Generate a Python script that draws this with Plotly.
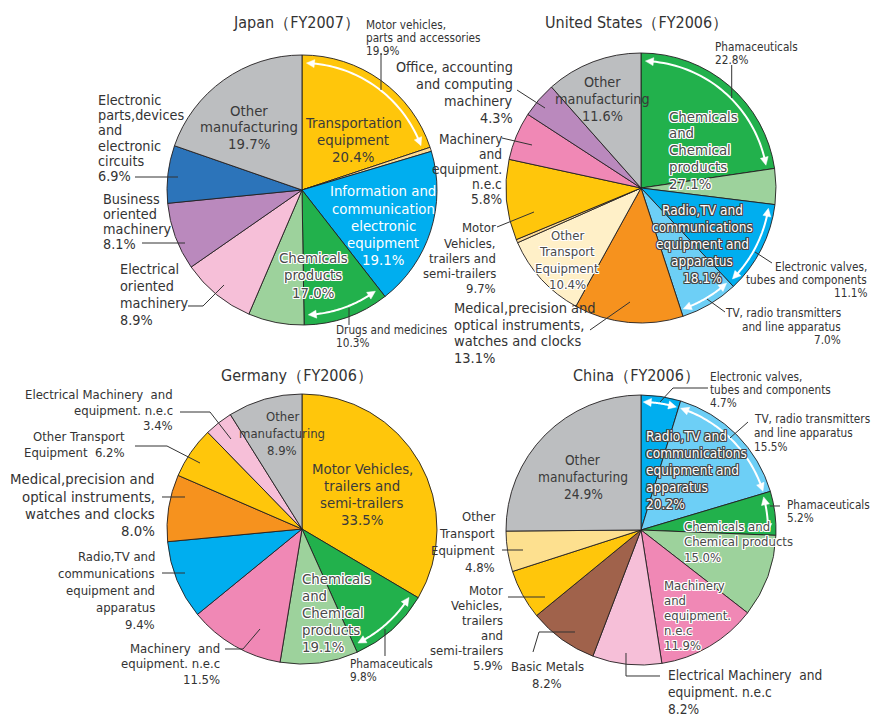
import math
import plotly.graph_objects as go

W, H = 884, 716

# ---------------- DATA ----------------
JAPAN_TITLE = "Japan（FY2007）"
JAPAN_LABELS = ["Motor vehicles, parts and accessories", "Other transportation equipment",
                "Information and communication electronic equipment", "Drugs and medicines",
                "Other chemicals products", "Electrical oriented machinery",
                "Business oriented machinery", "Electronic parts, devices and electronic circuits",
                "Other manufacturing"]
JAPAN_VALUES = [19.9, 0.5, 19.1, 10.3, 6.7, 8.9, 8.1, 6.9, 19.7]

US_TITLE = "United States（FY2006）"
US_LABELS = ["Phamaceuticals", "Other chemical products", "Electronic valves, tubes and components",
             "TV, radio transmitters and line apparatus", "Medical, precision and optical instruments",
             "Other Transport Equipment", "Other transport (minor)", "Motor Vehicles, trailers and semi-trailers",
             "Machinery and equipment n.e.c", "Office, accounting and computing machinery",
             "Other manufacturing"]
US_VALUES = [22.8, 4.3, 11.1, 7.0, 13.1, 10.4, 0.4, 9.7, 5.8, 4.3, 11.6]

GERMANY_TITLE = "Germany（FY2006）"
GERMANY_LABELS = ["Motor Vehicles, trailers and semi-trailers", "Phamaceuticals", "Other chemical products",
                  "Machinery and equipment n.e.c", "Radio, TV and communications equipment",
                  "Medical, precision and optical instruments", "Other Transport Equipment",
                  "Electrical Machinery and equipment n.e.c", "Other manufacturing"]
GERMANY_VALUES = [33.5, 9.8, 9.3, 11.5, 9.4, 8.0, 6.2, 3.4, 8.9]

CHINA_TITLE = "China（FY2006）"
CHINA_LABELS = ["Electronic valves, tubes and components", "TV, radio transmitters and line apparatus",
                "Phamaceuticals", "Other chemical products", "Machinery and equipment n.e.c",
                "Electrical Machinery and equipment n.e.c", "Basic Metals",
                "Motor Vehicles, trailers and semi-trailers", "Other Transport Equipment",
                "Other manufacturing"]
CHINA_VALUES = [4.7, 15.5, 5.2, 9.8, 11.9, 8.2, 8.2, 5.9, 4.8, 24.9]

# ---------------- STYLES ----------------
YELLOW = "#FFC60B"; PALEY = "#FDDB93"; CREAM = "#FFF0C8"; PALEY2 = "#FDE08F"
BLUE = "#00AEEF"; LBLUE = "#6DCFF6"; GREEN = "#22B14C"; LGREEN = "#9DD29C"
GRAY = "#BCBEC0"; DBLUE = "#2C74BA"; PURPLE = "#BA89BD"; LPINK = "#F6BFD8"
PINK = "#F088B5"; ORANGE = "#F6921E"; BROWN = "#A0624B"

JAPAN_COLORS = [YELLOW, PALEY, BLUE, GREEN, LGREEN, LPINK, PURPLE, DBLUE, GRAY]
US_COLORS = [GREEN, LGREEN, BLUE, LBLUE, ORANGE, CREAM, PALEY, YELLOW, PINK, PURPLE, GRAY]
GERMANY_COLORS = [YELLOW, GREEN, LGREEN, PINK, BLUE, ORANGE, YELLOW, LPINK, GRAY]
CHINA_COLORS = [BLUE, LBLUE, GREEN, LGREEN, PINK, LPINK, BROWN, YELLOW, PALEY2, GRAY]

FONT = "DejaVu Sans Condensed, Liberation Sans, sans-serif"
DARK = "#333333"
INK = "#3a3a3a"
R = 135
CENTERS = {"jp": (302, 190), "us": (641, 188), "de": (302, 529), "cn": (641, 530)}

# font sizes
T = 16      # titles
XL = 14.8   # big inside / outside
L = 14.3
M = 13.6
S = 13.0
XS = 11.7   # small notes

fig = go.Figure()


def add_pie(key, labels, values, colors):
    cx, cy = CENTERS[key]
    fig.add_trace(go.Pie(
        labels=labels, values=values, sort=False, direction="clockwise", rotation=0,
        marker=dict(colors=colors, line=dict(color="#231F20", width=0.9)),
        textinfo="none", hoverinfo="label+percent", showlegend=False,
        domain=dict(x=[(cx - R) / W, (cx + R) / W], y=[1 - (cy + R) / H, 1 - (cy - R) / H]),
    ))


add_pie("jp", JAPAN_LABELS, JAPAN_VALUES, JAPAN_COLORS)
add_pie("us", US_LABELS, US_VALUES, US_COLORS)
add_pie("de", GERMANY_LABELS, GERMANY_VALUES, GERMANY_COLORS)
add_pie("cn", CHINA_LABELS, CHINA_VALUES, CHINA_COLORS)

annotations = []
shapes = []


def px(x, y):
    return x / W, 1 - y / H


def txt(x, y0, lines, size, anchor="left", color=DARK, step=None, shadow=None):
    step = step or size * 1.05
    for i, line in enumerate(lines):
        xx, yy = px(x, y0 + i * step)
        f = dict(family=FONT, size=size, color=color)
        if shadow:
            f["shadow"] = shadow
        annotations.append(dict(x=xx, y=yy, xref="paper", yref="paper", text=line, showarrow=False,
                                xanchor=anchor, yanchor="middle", font=f, borderpad=0))


def leader(*pts):
    d = "M " + " L ".join("%.5f,%.5f" % px(x, y) for x, y in pts)
    shapes.append(dict(type="path", xref="paper", yref="paper", path=d,
                       line=dict(color=DARK, width=1), layer="above"))


def slice_angles(values, idx):
    tot = sum(values)
    a0 = sum(values[:idx]) / tot * 360
    a1 = a0 + values[idx] / tot * 360
    return a0, a1


def pt(cx, cy, r, a):
    t = math.radians(a)
    return cx + r * math.sin(t), cy - r * math.cos(t)


def arc_arrow(key, values, idx, inset=2.0, rr=127):
    cx, cy = CENTERS[key]
    a0, a1 = slice_angles(values, idx)
    a0 += inset
    a1 -= inset
    head = math.degrees(8.0 / rr)
    n = 40
    s0, s1 = a0 + head * 0.8, a1 - head * 0.8
    pts = [pt(cx, cy, rr, s0 + (s1 - s0) * k / n) for k in range(n + 1)]
    d = "M " + " L ".join("%.5f,%.5f" % px(x, y) for x, y in pts)
    shapes.append(dict(type="path", xref="paper", yref="paper", path=d,
                       line=dict(color="white", width=2), layer="above"))
    for tip, base in ((a0, a0 + head), (a1, a1 - head)):
        p1 = pt(cx, cy, rr, tip)
        p2 = pt(cx, cy, rr + 4, base)
        p3 = pt(cx, cy, rr - 4, base)
        d = "M " + " L ".join("%.5f,%.5f" % px(x, y) for x, y in (p1, p2, p3)) + " Z"
        shapes.append(dict(type="path", xref="paper", yref="paper", path=d,
                           fillcolor="white", line=dict(color="white", width=0.5), layer="above"))


WHITE_HALO = "1px 1px 0 #fff, -1px -1px 0 #fff, 1px -1px 0 #fff, -1px 1px 0 #fff, 0 1px 0 #fff, 0 -1px 0 #fff, 1px 0 0 #fff, -1px 0 0 #fff"
DARK_HALO = "1px 1px 0 #444, -1px -1px 0 #444, 1px -1px 0 #444, -1px 1px 0 #444, 0 1px 0 #444, 0 -1px 0 #444, 1px 0 0 #444, -1px 0 0 #444"

# ---------------- JAPAN ----------------
txt(296, 22, [JAPAN_TITLE], T, "center")
arc_arrow("jp", JAPAN_VALUES, 0)
arc_arrow("jp", JAPAN_VALUES, 3, rr=125)
txt(365, 25, ["Motor vehicles,", "parts and accessories", "19.9%"], XS, step=13)
leader((381, 53), (381, 90))
txt(249, 110, ["Other", "manufacturing", "19.7%"], XL, "center", INK, step=16.5)
txt(353, 123, ["Transportation", "equipment", "20.4%"], XL, "center", INK, step=17)
txt(383, 191, ["Information and", "communication", "electronic", "equipment", "19.1%"], XL, "center", "white", step=17)
txt(313, 257, ["Chemicals", "products", "17.0%"], XL, "center", "#4a4a4a", step=17.5, shadow=WHITE_HALO)
txt(335, 330, ["Drugs and medicines", "10.3%"], XS, step=13)
leader((349, 308), (349, 325))
txt(97, 100, ["Electronic", "parts,devices", "and", "electronic", "circuits", "6.9%"], L, step=15.2)
leader((135, 177), (178, 177))
txt(101.5, 199, ["Business", "oriented", "machinery", "8.1%"], L, step=15)
leader((142, 243), (185, 243))
txt(119, 269, ["Electrical", "oriented", "machinery", "8.9%"], L, step=17)
leader((188, 306), (203, 306), (224, 285))

# ---------------- UNITED STATES ----------------
txt(636, 22, [US_TITLE], T, "center")
arc_arrow("us", US_VALUES, 0)
arc_arrow("us", US_VALUES, 2, rr=129)
arc_arrow("us", US_VALUES, 3, inset=1.2, rr=128)
txt(714, 47, ["Phamaceuticals", "22.8%"], XS, step=13)
leader((731.7, 65), (731.7, 98))
txt(602, 82, ["Other", "manufacturing", "11.6%"], L, "center", INK, step=17)
txt(668, 116, ["Chemicals", "and", "Chemical", "products", "27.1%"], XL, "left", "#4a4a4a", step=16.8, shadow=WHITE_HALO)
txt(514, 67, ["Office, accounting", "and computing", "machinery", "4.3%"], L, "right", step=17)
leader((517, 90), (545, 108))
txt(503, 139, ["Machinery", "and", "equipment.", "n.e.c", "5.8%"], M, "right", step=15)
leader((502, 138), (532, 145))
txt(497, 228, ["Motor", "Vehicles,", "trailers and", "semi-trailers", "9.7%"], S, "right", step=15)
leader((497, 227), (534, 212))
txt(567, 235, ["Other", "Transport", "Equipment", "10.4%"], S, "center", "#4a4a4a", step=16.5, shadow=WHITE_HALO)
txt(453, 308, ["Medical,precision and", "optical instruments,", "watches and clocks", "13.1%"], 14.5, step=16.7)
leader((590, 330), (630, 302))
txt(702, 210, ["Radio,TV and", "communications", "equipment and", "apparatus", "18.1%"], M, "center", "white", step=17, shadow=DARK_HALO)
txt(868, 267, ["Electronic valves,", "tubes and components", "11.1%"], XS, "right", step=13)
leader((772, 263), (755, 252))
txt(842, 313, ["TV, radio transmitters", "and line apparatus", "7.0%"], XS, "right", step=13.5)
leader((725, 312), (707, 299))

# ---------------- GERMANY ----------------
txt(297, 375, [GERMANY_TITLE], T, "center")
arc_arrow("de", GERMANY_VALUES, 1)
txt(174, 394, ["Electrical Machinery  and", "equipment. n.e.c", "3.4%"], S, "right", step=16)
leader((180, 412), (210, 412), (231, 439))
txt(126, 436, ["Other Transport", "Equipment  6.2%"], S, "right", step=17)
leader((135, 446), (167, 446), (200, 463))
txt(156, 479, ["Medical,precision and", "optical instruments,", "watches and clocks", "8.0%"], XL, "right", step=17.2)
leader((162, 497), (185, 497))
txt(156, 556, ["Radio,TV and", "communications", "equipment and", "apparatus", "9.4%"], S, "right", step=17)
leader((162, 573), (185, 573))
txt(221, 648, ["Machinery  and", "equipment. n.e.c", "11.5%"], S, "right", step=15.5)
leader((225, 649), (243, 649), (260, 629))
txt(282, 417, ["Other", "manufacturing", "8.9%"], S, "center", INK, step=16.5)
txt(362, 468, ["Motor Vehicles,", "trailers and", "semi-trailers", "33.5%"], XL, "center", INK, step=17)
txt(301, 578, ["Chemicals", "and", "Chemical", "products", "19.1%"], XL, "left", "#4a4a4a", step=17, shadow=WHITE_HALO)
txt(349, 664, ["Phamaceuticals", "9.8%"], XS, step=13)
leader((385, 629), (385, 656))

# ---------------- CHINA ----------------
txt(636, 375, [CHINA_TITLE], T, "center")
arc_arrow("cn", CHINA_VALUES, 0, inset=1.0, rr=128)
arc_arrow("cn", CHINA_VALUES, 1, inset=1.0, rr=128)
arc_arrow("cn", CHINA_VALUES, 2, inset=1.5, rr=127)
txt(709, 377, ["Electronic valves,", "tubes and components", "4.7%"], XS, step=13)
leader((708, 388), (673, 388), (660, 402))
txt(753, 419, ["TV, radio transmitters", "and line apparatus", "15.5%"], XS, step=14)
leader((748, 422), (730, 438))
txt(786, 505, ["Phamaceuticals", "5.2%"], XS, step=13)
leader((780, 506), (770, 506))
txt(645, 436, ["Radio,TV and", "communications", "equipment and", "apparatus", "20.2%"], M, "left", "white", step=17, shadow=DARK_HALO)
txt(683, 526, ["Chemicals and", "Chemical products", "15.0%"], S, "left", "#4a4a4a", step=15.5, shadow=WHITE_HALO)
txt(663, 585, ["Machinery", "and", "equipment.", "n.e.c", "11.9%"], S, "left", "#4a4a4a", step=15, shadow=WHITE_HALO)
txt(583, 460, ["Other", "manufacturing", "24.9%"], M, "center", INK, step=17)
txt(496, 516, ["Other", "Transport", "Equipment", "4.8%"], S, "right", step=17)
leader((502, 550), (523, 550))
txt(504, 590, ["Motor", "Vehicles,", "trailers", "and", "semi-trailers", "5.9%"], S, "right", step=15)
leader((508, 597), (545, 597))
txt(547, 666, ["Basic Metals", "8.2%"], S, "center", step=17)
leader((533, 652), (539, 632), (575, 632))
txt(667, 675, ["Electrical Machinery  and", "equipment. n.e.c", "8.2%"], M, "left", step=17)
leader((660, 676), (626, 676), (626, 653))

fig.update_layout(
    width=W, height=H, autosize=False,
    margin=dict(l=0, r=0, t=0, b=0),
    paper_bgcolor="white", plot_bgcolor="white",
    annotations=annotations, shapes=shapes,
    font=dict(family=FONT),
)

fig.write_html("out.html", config={"displayModeBar": False},
               post_script="document.body.style.margin='0';document.body.style.overflow='hidden';")
